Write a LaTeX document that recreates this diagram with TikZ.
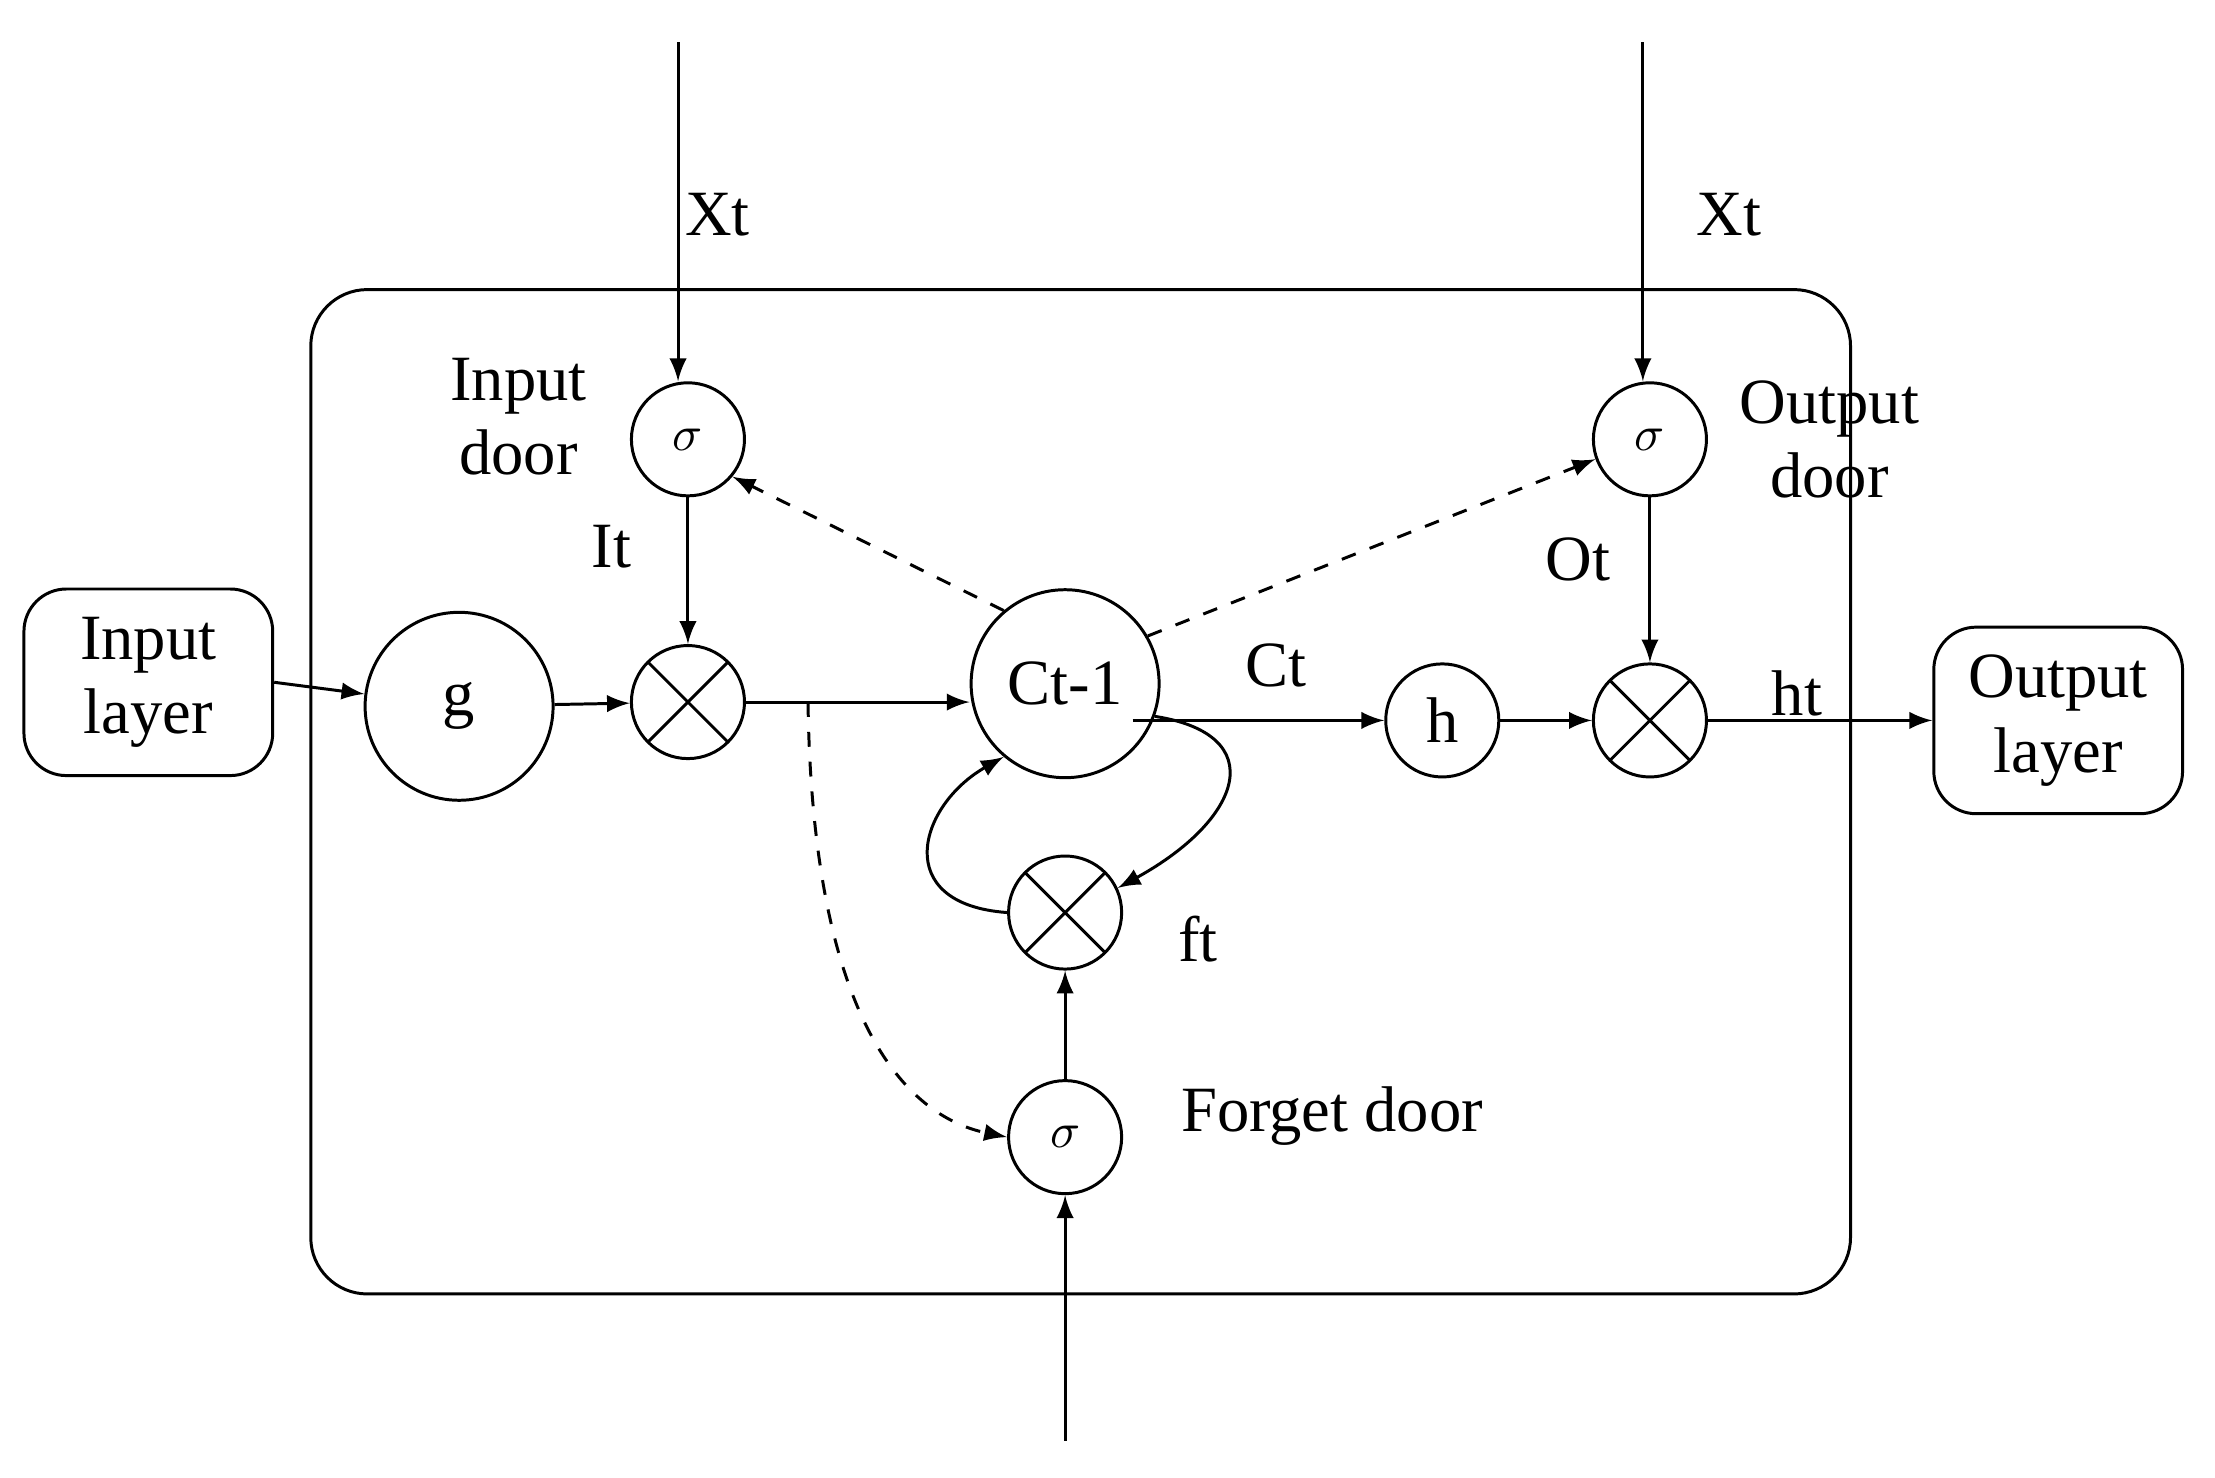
\documentclass[tikz,border=0pt]{standalone}
\usepackage{fontspec}
\setmainfont{Liberation Serif}
\usetikzlibrary{positioning}
\usetikzlibrary{calc}
\usetikzlibrary{arrows}
\tikzset{>=latex}
\tikzset{gate/.style={circle, draw, minimum size=0.8cm, inner sep=0pt, font=\fontsize{10}{12}\selectfont}}
\tikzset{cell/.style={circle, draw, minimum size=1.33cm, inner sep=0pt}}
\tikzset{mult/.style={circle, draw, minimum size=0.8cm, inner sep=0pt,
    path picture={\draw (path picture bounding box.north west) -- (path picture bounding box.south east)
                        (path picture bounding box.north east) -- (path picture bounding box.south west);}}}
\tikzset{layer/.style={rectangle, rounded corners=0.3cm, draw, minimum width=1.76cm, minimum height=1.32cm, align=center}}
\tikzset{lbl/.style={align=center}}

\begin{document}
\begin{tikzpicture}[x=0.01cm, y=-0.01cm, line width=0.6pt, font=\fontsize{13}{15}\selectfont]
    \useasboundingbox (0,0) rectangle (1568,1046);

    \draw [rounded corners=0.4cm] (220,205) rectangle (1310,916);

    \node [layer] (inLayer) at (105,483) {Input\\layer};
    \node [layer] (outLayer) at (1457,510) {Output\\layer};

    \node [cell] (g) at (325,500) {g};
    \node [gate] (inSig) at (487,311) {$\sigma$};
    \node [mult] (inMult) at (487,497) {};
    \node [cell] (cell) at (754,484) {Ct-1};
    \node [gate, font=\fontsize{13}{15}\selectfont] (h) at (1021,510) {h};
    \node [mult] (outMult) at (1168,510) {};
    \node [gate] (outSig) at (1168,311) {$\sigma$};
    \node [mult] (fMult) at (754,646) {};
    \node [gate] (fSig) at (754,805) {$\sigma$};

    \coordinate (xtIn) at (480,30);
    \coordinate (xtOut) at (1163,30);
    \coordinate (xtF) at (754,1020);
    \coordinate (split) at (572,497);

    % labels
    \node [lbl] at (508,152) {Xt};
    \node [lbl] at (1224,152) {Xt};
    \node [lbl] at (367,295) {Input\\door};
    \node [lbl] at (433,387) {It};
    \node [lbl] at (1295,311) {Output\\door};
    \node [lbl] at (1117,396) {Ot};
    \node [lbl] at (903,471) {Ct};
    \node [lbl] at (1272,491) {ht};
    \node [lbl] at (848,665) {ft};
    \node [lbl] at (943,790) {Forget door};

    % connectors
    \draw [->] (xtIn) -- (xtIn |- inSig.north);
    \draw [->] (xtOut) -- (xtOut |- outSig.north);
    \draw [->] (xtF) -- (fSig);
    \draw [->] (inLayer.east |- 0,483) -- (g);
    \draw [->] (g) -- (inMult);
    \draw [->] (inMult.east) -- (cell.west |- inMult.east);
    \draw [->] (inSig) -- (inMult);
    \draw [->] (outSig) -- (outMult);
    \draw [->] (fSig) -- (fMult);
    \draw [->] (cell.south east |- 0,510) -- (h);
    \draw [->] (h) -- (outMult);
    \draw [->] (outMult) -- (outLayer.west |- outMult.east);
    \draw [->, dashed] (cell.130) -- (inSig.-40);
    \draw [->, dashed] (cell.30) -- (outSig.200);
    \draw [->, dashed] (split) .. controls (575,720) and (640,790) .. (fSig.west);
    \draw [->] (cell.-20) .. controls (900,520) and (880,580) .. (fMult.25);
    \draw [->] (fMult.west) .. controls (630,640) and (650,570) .. (cell.-130);
\end{tikzpicture}
\end{document}
